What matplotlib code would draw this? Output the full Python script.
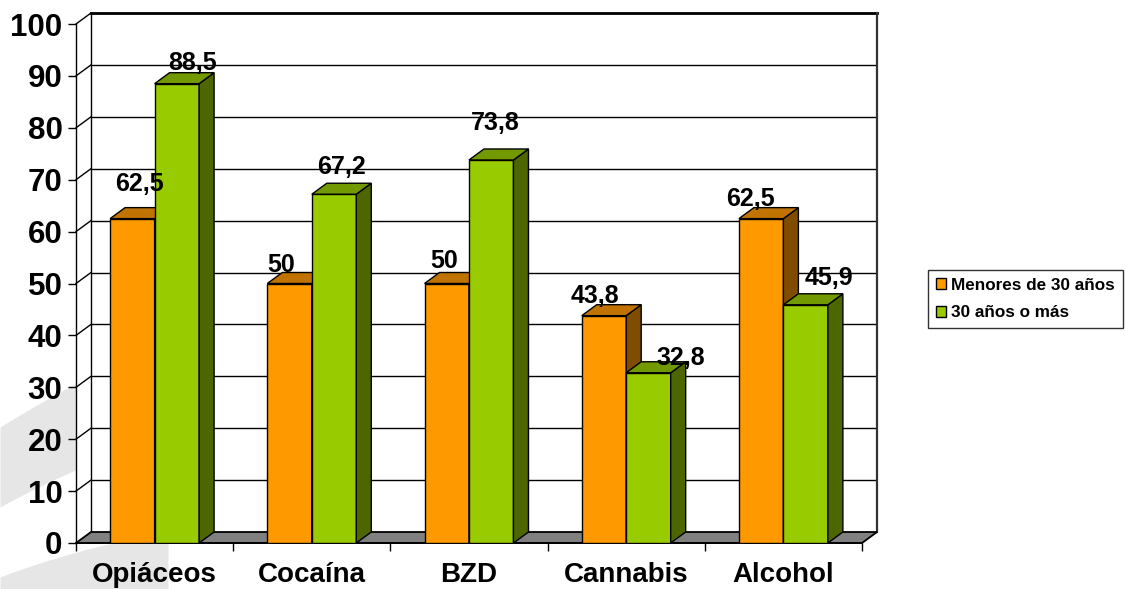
import numpy as np
import matplotlib
matplotlib.use("Agg")
import matplotlib.pyplot as plt
from matplotlib.patches import Polygon, Patch

# ---- data -------------------------------------------------------------
categories = ["Opiáceos", "Cocaína", "BZD", "Cannabis", "Alcohol"]
series_names = ["Menores de 30 años", "30 años o más"]
menores_30 = [62.5, 50, 50, 43.8, 62.5]
mayores_30 = [88.5, 67.2, 73.8, 32.8, 45.9]
y_ticks = list(range(0, 101, 10))

# ---- style ------------------------------------------------------------
FONT = ["Liberation Sans", "DejaVu Sans"]
plt.rcParams["font.family"] = FONT
plt.rcParams["font.weight"] = "bold"

face_cols = ["#FF9900", "#99CC00"]
top_cols = ["#C07300", "#739900"]
side_cols = ["#804D00", "#4D6600"]
bar_w = 0.283          # bar width in category units
# where each value label sits relative to the top-front centre of its bar (px)
label_nudge_px = [
    [(7, 35), (-8, 19), (-3, 22), (-9, 20), (-11, 20)],
    [(16, 21), (7, 27), (4, 37), (32, 15), (23, 27)],
]

W, H, DPI = 1125, 589, 100
fig = plt.figure(figsize=(W / DPI, H / DPI), dpi=DPI)
fig.patch.set_facecolor("white")

# faint swoosh decoration in the lower-left corner (pixel coordinates)
bg = fig.add_axes([0, 0, 1, 1])
bg.set_xlim(0, W)
bg.set_ylim(H, 0)
bg.axis("off")
xs = np.linspace(0, 168, 60)
band_a_top = 427 - 0.62 * xs + 0.0006 * xs ** 2
band_a_bot = 507 - 0.55 * xs + 0.0008 * xs ** 2
bg.fill_between(xs, band_a_top, band_a_bot, color="#e6e6e6", lw=0)
band_b_top = 577 - 0.38 * xs + 0.0007 * xs ** 2
bg.fill_between(xs, band_b_top, H, color="#e6e6e6", lw=0)

# ---- main axes: front plane of the 3-D box ---------------------------
x0, x1 = 76, 862
y0, y1 = 543, 24
ax = fig.add_axes([x0 / W, (H - y0) / H, (x1 - x0) / W, (y0 - y1) / H])
ax.set_facecolor("none")
n = len(categories)
ax.set_xlim(0, n)
ax.set_ylim(0, 100)

px_x = (x1 - x0) / n          # pixels per category
px_y = (y0 - y1) / 100.0      # pixels per unit
ddx = 15 / px_x               # depth offset in data units
ddy = 11 / px_y

# side wall and back wall
ax.add_patch(Polygon([(0, 0), (ddx, ddy), (ddx, 100 + ddy), (0, 100)],
                     closed=True, fc="white", ec="none", zorder=0.5, clip_on=False))
ax.add_patch(Polygon([(ddx, ddy), (n + ddx, ddy), (n + ddx, 100 + ddy), (ddx, 100 + ddy)],
                     closed=True, fc="white", ec="none", zorder=0.5, clip_on=False))
for t in y_ticks[1:]:
    ax.plot([ddx, n + ddx], [t + ddy, t + ddy], color="black", lw=1.0,
            zorder=1, clip_on=False, solid_capstyle="butt")
    ax.plot([0, ddx], [t, t + ddy], color="black", lw=1.0, zorder=1, clip_on=False)
ax.plot([ddx, ddx], [ddy, 100 + ddy], color="black", lw=1.0, zorder=1, clip_on=False)
ax.plot([ddx, n + ddx], [100 + ddy, 100 + ddy], color="black", lw=2.0, zorder=1.2,
        clip_on=False, solid_capstyle="projecting")
ax.plot([n + ddx, n + ddx], [ddy, 100 + ddy], color="#333333", lw=1.6, zorder=1.2,
        clip_on=False)

# floor
ax.add_patch(Polygon([(0, 0), (n, 0), (n + ddx, ddy), (ddx, ddy)], closed=True,
                     fc="#808080", ec="black", lw=1.3, zorder=1.5, clip_on=False))

# ---- 3-D bars ---------------------------------------------------------
idx = np.arange(n)
for s, vals in enumerate([menores_30, mayores_30]):
    centers = idx + 0.5 + (s - 0.5) * bar_w
    z = 3 + s
    bars = ax.bar(centers, vals, width=bar_w, color=face_cols[s], edgecolor="black",
                  linewidth=1.0, zorder=z, label=series_names[s])
    for rect, v in zip(bars, vals):
        xl = rect.get_x()
        xr = xl + rect.get_width()
        h = rect.get_height()
        ax.add_patch(Polygon([(xr, 0), (xr + ddx, ddy), (xr + ddx, h + ddy), (xr, h)],
                             closed=True, fc=side_cols[s], ec="black", lw=1.0,
                             zorder=z, clip_on=False))
        ax.add_patch(Polygon([(xl, h), (xr, h), (xr + ddx, h + ddy), (xl + ddx, h + ddy)],
                             closed=True, fc=top_cols[s], ec="black", lw=1.0,
                             zorder=z, clip_on=False))
    for i, (c, v) in enumerate(zip(centers, vals)):
        txt = ("%g" % v).replace(".", ",")
        dx, up = label_nudge_px[s][i]
        ax.annotate(txt, xy=(c, v), xytext=(dx * 0.72, up * 0.72),
                    textcoords="offset points", ha="center", va="center",
                    fontsize=18, fontweight="bold", zorder=6,
                    annotation_clip=False)

# ---- axes, ticks, labels ---------------------------------------------
for side in ["top", "right"]:
    ax.spines[side].set_visible(False)
ax.spines["left"].set_linewidth(1.0)
ax.spines["bottom"].set_linewidth(1.3)
ax.spines["left"].set_zorder(2)
ax.spines["bottom"].set_zorder(2)

ax.set_yticks(y_ticks)
ax.set_yticklabels([str(t) for t in y_ticks])
ax.tick_params(axis="y", direction="out", length=5.8, width=1.0, pad=4,
               labelsize=22.5)
ax.set_xticks(np.arange(n + 1))
ax.set_xticklabels([])
ax.set_xticks(idx + 0.5, minor=True)
ax.set_xticklabels(categories, minor=True)
ax.tick_params(axis="x", which="major", direction="out", length=5.8, width=1.0)
ax.tick_params(axis="x", which="minor", length=0, pad=14, labelsize=20)
for lab in ax.get_yticklabels() + ax.get_xticklabels(minor=True):
    lab.set_fontweight("bold")

# legend
handles = [Patch(facecolor=face_cols[s], edgecolor="black", linewidth=1.0)
           for s in range(2)]
leg = fig.legend(handles, series_names, loc="center left",
                 bbox_to_anchor=(928 / W, (H - 299) / H), frameon=True,
                 fancybox=False, shadow=False, fontsize=12.3,
                 handlelength=0.6, handleheight=0.6, handletextpad=0.3,
                 labelspacing=0.75, borderpad=0.45, borderaxespad=0)
leg.get_frame().set_edgecolor("black")
leg.get_frame().set_linewidth(1.0)
for t in leg.get_texts():
    t.set_fontweight("bold")

fig.savefig("out.png", dpi=DPI, facecolor="white")
